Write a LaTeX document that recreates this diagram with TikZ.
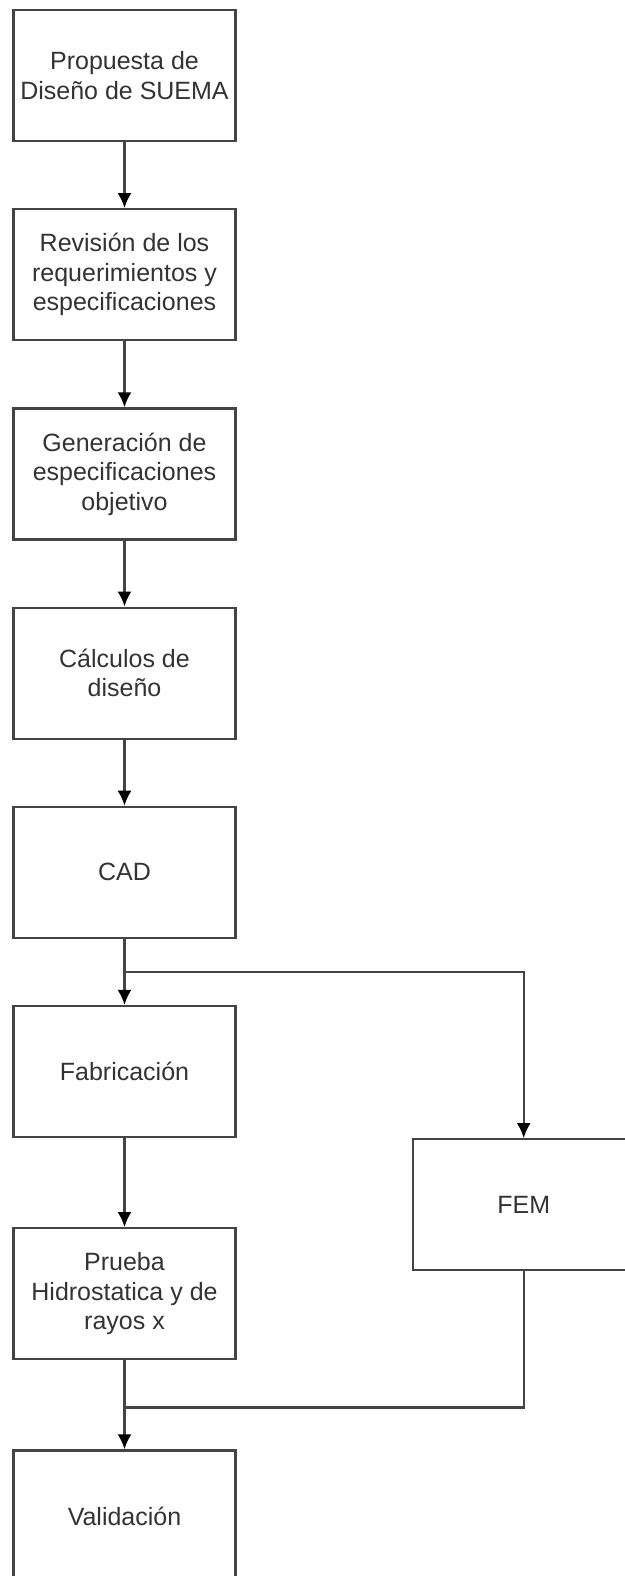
\documentclass[tikz,border=0pt]{standalone}
\usepackage{fontspec}
\setmainfont{Liberation Sans}
\usepackage{tikz}
\usetikzlibrary{positioning,calc,arrows.meta}

\definecolor{linegray}{HTML}{444444}
\definecolor{textgray}{HTML}{333333}

\tikzset{
 etapa/.style={rectangle,draw=linegray,line width=2.2pt,minimum width=222pt,minimum height=131pt,
  align=center,text=textgray,font=\fontsize{25}{29.5}\selectfont,inner sep=2pt},
 flecha/.style={draw=linegray,line width=2.2pt,-{Latex[length=15pt,width=14pt,black]}},
 linea/.style={draw=linegray,line width=2.2pt}
}

\begin{document}
\begin{tikzpicture}[x=1pt,y=-1pt,node distance=66pt]
\useasboundingbox (0,0) rectangle (624,1576);
 \node [etapa] (propuesta) at (124.5,75.5) {Propuesta de\\Diseño de SUEMA};
 \node [etapa,below=of propuesta] (revision) {Revisión de los\\requerimientos y\\especificaciones};
 \node [etapa,below=of revision] (generacion) {Generación de\\especificaciones\\objetivo};
 \node [etapa,below=of generacion] (calculos) {Cálculos de\\diseño};
 \node [etapa,below=of calculos] (cad) {CAD};
 \node [etapa,below=of cad] (fab) {Fabricación};
 \node [etapa,below right=0pt and 175pt of fab] (fem) {FEM};
 \node [etapa,below=89pt of fab] (prueba) {Prueba\\Hidrostatica y de\\rayos x};
 \node [etapa,below=89pt of prueba] (valida) {Validación};

 \coordinate (split) at ($(cad.south)!0.5!(fab.north)$);
 \coordinate (merge) at ($(prueba.south)!0.53!(valida.north)$);

 \draw [flecha] (propuesta) -- (revision);
 \draw [flecha] (revision) -- (generacion);
 \draw [flecha] (generacion) -- (calculos);
 \draw [flecha] (calculos) -- (cad);
 \draw [flecha] (cad) -- (fab);
 \draw [flecha] (split) -| (fem.north);
 \draw [flecha] (fab) -- (prueba);
 \draw [flecha] (prueba) -- (valida);
 \draw [linea] (fem.south) |- (merge);
\end{tikzpicture}
\end{document}
